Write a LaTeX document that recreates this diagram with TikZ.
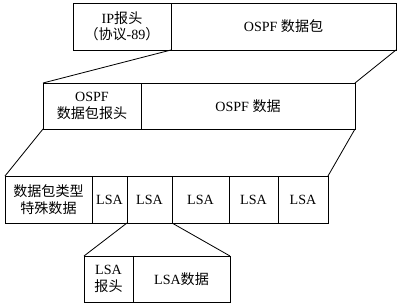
\documentclass[tikz,border=0pt]{standalone}
\usepackage{fontspec}
\setmainfont{Liberation Serif}
\newfontfamily\cjk{Noto Sans CJK SC}
\usetikzlibrary{positioning}
\tikzset{
	ospfcell/.style={
		draw,
		line width=0.7pt,
		align=center,
		outer sep=0pt,
		inner sep=2pt,
		font=\fontsize{12}{14}\selectfont
	},
	ospfrowA/.style={ospfcell, minimum height=1.41cm},
	ospfrowB/.style={ospfcell, minimum height=1.38cm},
	ospfzoom/.style={line width=0.7pt}
}
\begin{document}
\begin{tikzpicture}
	\useasboundingbox (0,0) rectangle (12,-9.18);

	% IP packet
	\node[ospfrowA, anchor=north west, minimum width=2.94cm] (iphead) at (2.19,-0.09)
	{IP{\cjk 报头}\\{\cjk （协议}-89{\cjk ）}};
	\node[ospfrowA, right=0pt of iphead, minimum width=6.75cm] (ippay)
	{OSPF {\cjk 数据包}};

	% OSPF packet
	\node[ospfrowB, anchor=north west, minimum width=2.94cm] (ospfhead) at (1.29,-2.49)
	{OSPF\\{\cjk 数据包报头}};
	\node[ospfrowB, right=0pt of ospfhead, minimum width=6.42cm] (ospfdata)
	{OSPF {\cjk 数据}};

	% OSPF data
	\node[ospfrowA, anchor=north west, minimum width=2.61cm] (special) at (0.15,-5.28)
	{{\cjk 数据包类型}\\{\cjk 特殊数据}};
	\node[ospfrowA, right=0pt of special, minimum width=1.05cm] (lsa1) {LSA};
	\node[ospfrowA, right=0pt of lsa1, minimum width=1.35cm] (lsa2) {LSA};
	\node[ospfrowA, right=0pt of lsa2, minimum width=1.71cm] (lsa3) {LSA};
	\node[ospfrowA, right=0pt of lsa3, minimum width=1.47cm] (lsa4) {LSA};
	\node[ospfrowA, right=0pt of lsa4, minimum width=1.50cm] (lsa5) {LSA};

	% one LSA
	\node[ospfrowB, anchor=north west, minimum width=1.47cm] (lsahead) at (2.52,-7.68)
	{LSA\\{\cjk 报头}};
	\node[ospfrowB, right=0pt of lsahead, minimum width=2.91cm] (lsadata)
	{LSA{\cjk 数据}};

	% zoom lines
	\draw[ospfzoom] (ippay.south west) -- (ospfhead.north west);
	\draw[ospfzoom] (ippay.south east) -- (ospfdata.north east);
	\draw[ospfzoom] (ospfhead.south west) -- (special.north west);
	\draw[ospfzoom] (ospfdata.south east) -- (lsa5.north east);
	\draw[ospfzoom] (lsa2.south west) -- (lsahead.north west);
	\draw[ospfzoom] (lsa2.south east) -- (lsadata.north east);

\end{tikzpicture}
\end{document}
